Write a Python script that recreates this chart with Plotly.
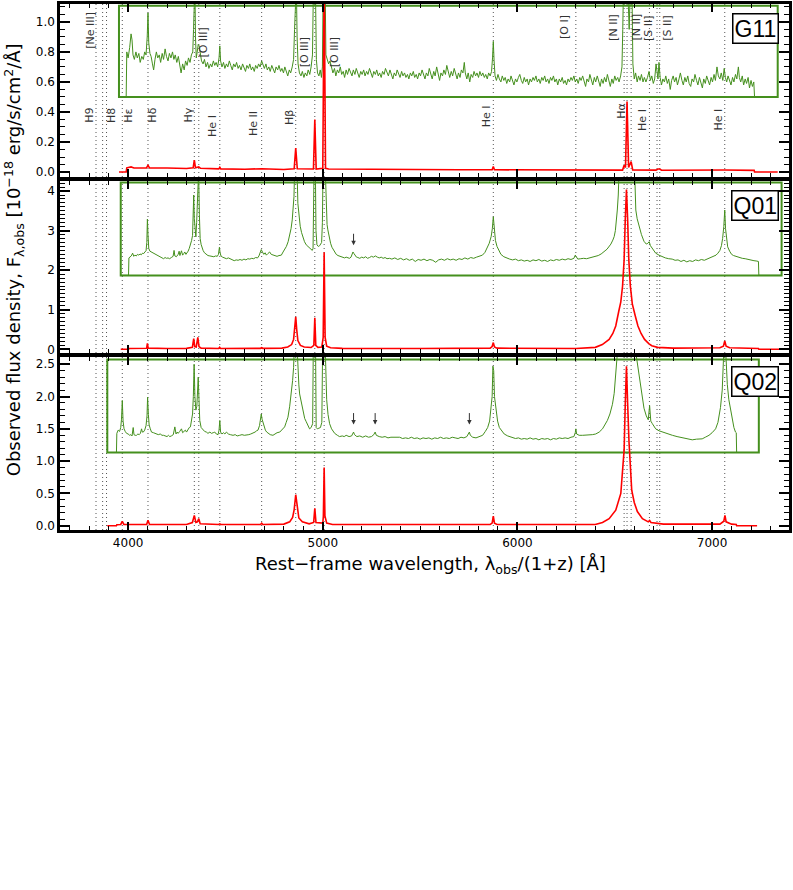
"""Espectros G11 / Q01 / Q02 com Plotly"""

import plotly.graph_objects as go
from plotly.subplots import make_subplots

GREEN = '#45901e'
RED = '#ff0000'
FONT = 'DejaVu Sans'

# comprimentos de onda das linhas marcadas (tracejado vertical)
LINE_WAVES = [3835, 3869, 3889, 3970, 4102, 4340, 4363, 4471, 4686, 4861,
              4959, 5007, 5876, 6300, 6548, 6563, 6584, 6678, 6717, 6731, 7065]

LINE_NAMES = ['[Ne III]', 'H9', 'H8', 'Hε', 'Hδ', 'Hγ', '[O III]', 'He I', 'He II',
              'Hβ', '[O III]', '[O III]', 'He I', '[O I]', '[N II]', 'Hα', '[N II]',
              'He I', '[S II]', '[S II]', 'He I']

# posição (x, y) de cada rótulo no painel de cima
LABEL_POS = [(3809, 0.947), (3801, 0.377), (3915, 0.377), (4001, 0.377), (4126, 0.38),
             (4308, 0.377), (4389, 0.861), (4433, 0.31), (4645, 0.325), (4830, 0.364),
             (4907, 0.795), (5061, 0.795), (5838, 0.371), (6245, 0.967), (6496, 0.96),
             (6534, 0.41), (6611, 0.965), (6642, 0.35), (6676, 0.96), (6773, 0.96),
             (7031, 0.35)]

# G11 - espectro ampliado (verde) e espectro observado (vermelho)
G11_ZOOM = [
    (3953, 0.50), (3990, 0.50), (3993, 0.80), (4000, 0.76), (4008, 0.83), (4015, 0.92), (4020, 0.88),
    (4025, 0.78), (4032, 0.75), (4040, 0.80), (4047, 0.76), (4055, 0.79), (4062, 0.73), (4070, 0.77),
    (4078, 0.75), (4085, 0.80), (4092, 0.78), (4098, 0.90), (4102, 1.06), (4106, 0.86), (4112, 0.79),
    (4118, 0.77), (4125, 0.72), (4131, 0.68), (4138, 0.75), (4145, 0.80), (4152, 0.76), (4160, 0.78),
    (4167, 0.73), (4175, 0.79), (4182, 0.75), (4190, 0.82), (4197, 0.77), (4205, 0.74), (4212, 0.79),
    (4220, 0.76), (4228, 0.80), (4235, 0.75), (4242, 0.78), (4250, 0.73), (4258, 0.77), (4265, 0.70),
    (4272, 0.66), (4280, 0.72), (4288, 0.68), (4295, 0.74), (4303, 0.71), (4310, 0.76), (4318, 0.73),
    (4325, 0.78), (4332, 0.80), (4336, 0.95), (4339, 1.25), (4343, 1.25), (4346, 0.90), (4350, 0.76),
    (4355, 0.80), (4360, 0.85), (4365, 0.84), (4370, 0.80), (4377, 0.74), (4385, 0.72), (4392, 0.75),
    (4400, 0.70), (4408, 0.73), (4415, 0.69), (4423, 0.72), (4430, 0.70), (4438, 0.74), (4445, 0.71),
    (4452, 0.73), (4460, 0.70), (4467, 0.76), (4471, 0.84), (4475, 0.74), (4482, 0.70), (4490, 0.73),
    (4497, 0.69), (4505, 0.72), (4512, 0.70), (4520, 0.74), (4527, 0.71), (4535, 0.68), (4542, 0.72),
    (4550, 0.70), (4557, 0.73), (4565, 0.69), (4572, 0.71), (4580, 0.68), (4588, 0.72), (4595, 0.70),
    (4603, 0.67), (4610, 0.71), (4618, 0.69), (4625, 0.72), (4633, 0.68), (4640, 0.70), (4648, 0.67),
    (4655, 0.71), (4663, 0.69), (4670, 0.72), (4678, 0.70), (4686, 0.74), (4693, 0.71), (4700, 0.69),
    (4708, 0.72), (4715, 0.68), (4723, 0.70), (4730, 0.67), (4738, 0.71), (4745, 0.69), (4753, 0.66),
    (4760, 0.70), (4768, 0.68), (4775, 0.71), (4783, 0.67), (4790, 0.69), (4798, 0.66), (4805, 0.70),
    (4813, 0.67), (4820, 0.64), (4828, 0.68), (4835, 0.66), (4843, 0.70), (4850, 0.75), (4855, 0.95),
    (4859, 1.25), (4864, 1.25), (4868, 0.90), (4873, 0.72), (4880, 0.66), (4888, 0.64), (4895, 0.67),
    (4903, 0.63), (4910, 0.66), (4918, 0.64), (4925, 0.68), (4933, 0.65), (4940, 0.70), (4947, 0.78),
    (4952, 1.25), (4962, 1.25), (4967, 0.75), (4973, 0.66), (4980, 0.64), (4987, 0.68), (4993, 0.63),
    (4998, 0.70), (5002, 1.25), (5012, 1.25), (5016, 0.78), (5022, 0.75), (5030, 0.72), (5037, 0.74),
    (5045, 0.70), (5052, 0.66), (5060, 0.69), (5067, 0.64), (5075, 0.68), (5082, 0.66), (5090, 0.70),
    (5097, 0.65), (5105, 0.67), (5112, 0.63), (5120, 0.68), (5127, 0.65), (5135, 0.69), (5142, 0.66),
    (5150, 0.64), (5157, 0.68), (5165, 0.65), (5172, 0.69), (5180, 0.66), (5187, 0.63), (5195, 0.67),
    (5202, 0.65), (5210, 0.68), (5217, 0.64), (5225, 0.67), (5232, 0.65), (5240, 0.69), (5247, 0.66),
    (5255, 0.63), (5262, 0.67), (5270, 0.65), (5277, 0.68), (5285, 0.64), (5292, 0.66), (5300, 0.63),
    (5307, 0.67), (5315, 0.65), (5322, 0.69), (5330, 0.66), (5337, 0.64), (5345, 0.68), (5352, 0.65),
    (5360, 0.62), (5367, 0.66), (5375, 0.64), (5382, 0.68), (5390, 0.65), (5397, 0.63), (5405, 0.67),
    (5412, 0.64), (5420, 0.66), (5427, 0.63), (5435, 0.65), (5442, 0.62), (5450, 0.66), (5457, 0.64),
    (5465, 0.67), (5472, 0.63), (5480, 0.65), (5487, 0.62), (5495, 0.66), (5502, 0.64), (5510, 0.68),
    (5517, 0.65), (5525, 0.62), (5532, 0.66), (5540, 0.64), (5547, 0.69), (5555, 0.65), (5562, 0.62),
    (5570, 0.67), (5577, 0.64), (5585, 0.70), (5592, 0.66), (5600, 0.61), (5607, 0.66), (5615, 0.64),
    (5622, 0.68), (5630, 0.65), (5637, 0.71), (5645, 0.66), (5652, 0.63), (5660, 0.67), (5667, 0.64),
    (5675, 0.69), (5682, 0.65), (5690, 0.62), (5697, 0.66), (5705, 0.63), (5712, 0.68), (5720, 0.66),
    (5727, 0.73), (5732, 0.66), (5740, 0.62), (5747, 0.66), (5755, 0.60), (5762, 0.65), (5770, 0.63),
    (5777, 0.67), (5785, 0.64), (5792, 0.66), (5800, 0.63), (5807, 0.67), (5815, 0.64), (5822, 0.66),
    (5830, 0.63), (5837, 0.65), (5845, 0.62), (5852, 0.66), (5860, 0.64), (5867, 0.67), (5872, 0.76),
    (5876, 0.87), (5880, 0.74), (5885, 0.64), (5892, 0.61), (5900, 0.65), (5907, 0.62), (5915, 0.60),
    (5922, 0.64), (5930, 0.61), (5937, 0.63), (5945, 0.59), (5952, 0.62), (5960, 0.60), (5967, 0.64),
    (5975, 0.61), (5982, 0.58), (5990, 0.62), (5997, 0.60), (6005, 0.63), (6012, 0.65), (6020, 0.61),
    (6027, 0.59), (6035, 0.63), (6042, 0.60), (6050, 0.62), (6057, 0.58), (6065, 0.62), (6072, 0.60),
    (6080, 0.63), (6087, 0.61), (6095, 0.64), (6102, 0.60), (6110, 0.62), (6117, 0.59), (6125, 0.63),
    (6132, 0.61), (6140, 0.64), (6147, 0.60), (6155, 0.62), (6162, 0.59), (6170, 0.63), (6177, 0.61),
    (6185, 0.64), (6192, 0.60), (6200, 0.62), (6207, 0.58), (6215, 0.62), (6222, 0.60), (6230, 0.63),
    (6237, 0.59), (6245, 0.61), (6252, 0.58), (6260, 0.62), (6267, 0.60), (6275, 0.63), (6282, 0.61),
    (6290, 0.64), (6297, 0.60), (6305, 0.62), (6312, 0.59), (6320, 0.63), (6327, 0.61), (6335, 0.64),
    (6342, 0.60), (6350, 0.57), (6357, 0.62), (6365, 0.60), (6372, 0.65), (6380, 0.61), (6387, 0.58),
    (6395, 0.63), (6402, 0.60), (6410, 0.64), (6417, 0.61), (6425, 0.57), (6432, 0.62), (6440, 0.59),
    (6447, 0.63), (6455, 0.60), (6462, 0.65), (6470, 0.61), (6477, 0.57), (6485, 0.62), (6492, 0.59),
    (6500, 0.64), (6507, 0.61), (6515, 0.63), (6522, 0.60), (6530, 0.64), (6537, 0.70), (6541, 0.95),
    (6545, 1.25), (6566, 1.25), (6574, 0.95), (6580, 1.25), (6588, 1.25), (6593, 0.72), (6600, 0.62),
    (6607, 0.66), (6615, 0.60), (6622, 0.64), (6630, 0.61), (6637, 0.65), (6645, 0.60), (6652, 0.63),
    (6660, 0.60), (6668, 0.63), (6676, 0.67), (6683, 0.61), (6690, 0.64), (6698, 0.59), (6705, 0.62),
    (6712, 0.72), (6717, 0.66), (6722, 0.62), (6727, 0.73), (6733, 0.63), (6740, 0.58), (6747, 0.62),
    (6755, 0.60), (6762, 0.64), (6770, 0.59), (6777, 0.62), (6785, 0.55), (6792, 0.61), (6800, 0.64),
    (6807, 0.60), (6815, 0.63), (6822, 0.58), (6830, 0.62), (6837, 0.66), (6845, 0.61), (6852, 0.58),
    (6860, 0.63), (6867, 0.60), (6875, 0.64), (6882, 0.59), (6890, 0.57), (6897, 0.62), (6905, 0.60),
    (6912, 0.65), (6920, 0.61), (6927, 0.58), (6935, 0.63), (6942, 0.60), (6950, 0.56), (6957, 0.62),
    (6965, 0.59), (6972, 0.64), (6980, 0.61), (6987, 0.58), (6995, 0.63), (7002, 0.60), (7010, 0.65),
    (7017, 0.61), (7025, 0.70), (7032, 0.64), (7040, 0.62), (7047, 0.66), (7055, 0.61), (7062, 0.69),
    (7068, 0.63), (7075, 0.60), (7082, 0.64), (7090, 0.61), (7097, 0.58), (7105, 0.63), (7112, 0.60),
    (7120, 0.65), (7127, 0.62), (7135, 0.70), (7140, 0.63), (7147, 0.60), (7155, 0.64), (7162, 0.58),
    (7170, 0.62), (7177, 0.59), (7185, 0.63), (7192, 0.56), (7200, 0.61), (7207, 0.57), (7214, 0.60),
    (7218, 0.50), (7337, 0.50)]

G11_FLUX = [
    (3953, 0.0), (3990, 0.0), (3993, 0.028), (4015, 0.034), (4030, 0.027), (4060, 0.027), (4094, 0.028),
    (4102, 0.045), (4110, 0.028), (4200, 0.027), (4300, 0.024), (4334, 0.028), (4340, 0.080),
    (4346, 0.028), (4356, 0.030), (4363, 0.034), (4372, 0.025), (4466, 0.021), (4471, 0.032),
    (4476, 0.021), (4600, 0.019), (4686, 0.022), (4800, 0.017), (4853, 0.022), (4861, 0.160),
    (4869, 0.022), (4952, 0.020), (4959, 0.350), (4966, 0.020), (5000, 0.025), (5007, 1.30),
    (5014, 0.025), (5030, 0.020), (5300, 0.016), (5700, 0.015), (5870, 0.015), (5876, 0.036),
    (5882, 0.015), (6300, 0.012), (6540, 0.013), (6548, 0.045), (6555, 0.030), (6563, 0.47),
    (6571, 0.030), (6584, 0.070), (6592, 0.014), (6712, 0.013), (6722, 0.020), (6731, 0.020),
    (6740, 0.012), (7065, 0.014), (7216, 0.011), (7218, 0.0), (7337, 0.0)]

# Q01
Q01_ZOOM = [
    (3962, 1.87), (4002, 1.87), (4004, 2.31), (4010, 2.33), (4016, 2.36), (4023, 2.43), (4029, 2.35),
    (4035, 2.38), (4042, 2.36), (4048, 2.40), (4055, 2.38), (4061, 2.41), (4068, 2.39), (4074, 2.43),
    (4080, 2.42), (4086, 2.46), (4092, 2.49), (4096, 2.70), (4099, 3.29), (4102, 2.90), (4106, 2.55),
    (4112, 2.48), (4120, 2.46), (4128, 2.44), (4136, 2.41), (4146, 2.38), (4155, 2.36), (4164, 2.33),
    (4173, 2.31), (4182, 2.29), (4190, 2.32), (4197, 2.30), (4205, 2.31), (4213, 2.29), (4222, 2.32),
    (4231, 2.35), (4236, 2.50), (4240, 2.36), (4248, 2.34), (4257, 2.40), (4262, 2.48), (4266, 2.37),
    (4274, 2.49), (4280, 2.38), (4286, 2.42), (4291, 2.46), (4297, 2.40), (4303, 2.44), (4308, 2.48),
    (4314, 2.55), (4320, 2.64), (4326, 2.75), (4331, 2.88), (4334, 3.20), (4337, 3.90), (4340, 3.30),
    (4344, 2.92), (4348, 2.84), (4352, 3.20), (4356, 4.50), (4362, 4.50), (4366, 3.40), (4370, 2.80),
    (4375, 2.65), (4380, 2.55), (4385, 2.50), (4392, 2.44), (4400, 2.40), (4410, 2.37), (4420, 2.36),
    (4430, 2.35), (4440, 2.34), (4450, 2.36), (4458, 2.35), (4464, 2.40), (4469, 2.58), (4472, 2.45),
    (4477, 2.36), (4485, 2.33), (4495, 2.31), (4505, 2.29), (4515, 2.31), (4525, 2.28), (4535, 2.27),
    (4545, 2.24), (4555, 2.26), (4565, 2.25), (4575, 2.27), (4585, 2.25), (4595, 2.28), (4605, 2.26),
    (4615, 2.29), (4625, 2.28), (4635, 2.30), (4645, 2.29), (4655, 2.32), (4665, 2.31), (4672, 2.36),
    (4678, 2.44), (4684, 2.52), (4690, 2.46), (4697, 2.40), (4704, 2.44), (4710, 2.38), (4718, 2.42),
    (4727, 2.46), (4735, 2.40), (4744, 2.38), (4755, 2.36), (4765, 2.35), (4775, 2.37), (4787, 2.38),
    (4796, 2.46), (4805, 2.52), (4813, 2.60), (4822, 2.72), (4830, 2.89), (4837, 3.05), (4843, 3.27),
    (4848, 3.55), (4852, 3.86), (4855, 4.50), (4868, 4.50), (4872, 3.69), (4878, 3.35), (4884, 3.11),
    (4891, 2.95), (4898, 2.81), (4906, 2.72), (4915, 2.64), (4924, 2.60), (4932, 2.56), (4940, 2.53),
    (4946, 2.50), (4950, 2.55), (4953, 3.20), (4955, 4.50), (4962, 4.50), (4965, 3.00), (4970, 2.64),
    (4977, 2.60), (4984, 2.62), (4990, 2.66), (4994, 2.70), (4998, 3.20), (5001, 4.50), (5013, 4.50),
    (5017, 3.50), (5022, 3.15), (5026, 3.02), (5033, 2.82), (5040, 2.68), (5047, 2.58), (5055, 2.50),
    (5062, 2.45), (5069, 2.40), (5078, 2.37), (5087, 2.35), (5095, 2.33), (5103, 2.32), (5112, 2.31),
    (5120, 2.33), (5128, 2.32), (5137, 2.30), (5145, 2.33), (5150, 2.38), (5155, 2.46), (5160, 2.42),
    (5166, 2.36), (5173, 2.33), (5180, 2.32), (5190, 2.30), (5200, 2.33), (5210, 2.31), (5220, 2.34),
    (5230, 2.30), (5240, 2.32), (5250, 2.35), (5260, 2.33), (5270, 2.36), (5280, 2.33), (5290, 2.31),
    (5300, 2.33), (5310, 2.30), (5320, 2.32), (5330, 2.29), (5343, 2.30), (5355, 2.28), (5370, 2.31),
    (5385, 2.27), (5400, 2.30), (5415, 2.26), (5430, 2.29), (5445, 2.25), (5460, 2.28), (5475, 2.22),
    (5490, 2.27), (5505, 2.25), (5520, 2.28), (5535, 2.24), (5550, 2.27), (5565, 2.25), (5580, 2.20),
    (5595, 2.26), (5610, 2.28), (5625, 2.25), (5640, 2.29), (5655, 2.26), (5670, 2.28), (5685, 2.25),
    (5700, 2.29), (5715, 2.27), (5730, 2.31), (5745, 2.28), (5760, 2.32), (5775, 2.30), (5790, 2.33),
    (5805, 2.36), (5820, 2.38), (5833, 2.45), (5845, 2.58), (5855, 2.68), (5865, 2.85), (5871, 3.05),
    (5876, 3.35), (5881, 3.00), (5887, 2.75), (5895, 2.60), (5905, 2.48), (5915, 2.40), (5930, 2.34),
    (5945, 2.30), (5960, 2.28), (5975, 2.26), (5990, 2.28), (6005, 2.24), (6020, 2.26), (6035, 2.23),
    (6050, 2.25), (6065, 2.22), (6080, 2.26), (6095, 2.24), (6110, 2.27), (6125, 2.23), (6140, 2.25),
    (6155, 2.22), (6170, 2.26), (6185, 2.24), (6200, 2.27), (6215, 2.25), (6230, 2.28), (6245, 2.26),
    (6260, 2.29), (6275, 2.27), (6290, 2.30), (6297, 2.38), (6303, 2.34), (6310, 2.28), (6325, 2.29),
    (6340, 2.30), (6355, 2.29), (6370, 2.31), (6385, 2.32), (6400, 2.34), (6415, 2.37), (6430, 2.41),
    (6440, 2.44), (6450, 2.49), (6460, 2.53), (6471, 2.59), (6480, 2.66), (6490, 2.76), (6497, 2.85),
    (6503, 3.00), (6508, 3.20), (6513, 3.52), (6518, 3.90), (6522, 4.50), (6602, 4.50), (6605, 3.90),
    (6608, 3.52), (6615, 3.30), (6625, 3.10), (6637, 2.90), (6650, 2.73), (6662, 2.66), (6670, 2.68),
    (6677, 2.72), (6683, 2.62), (6693, 2.55), (6710, 2.43), (6727, 2.38), (6744, 2.34), (6760, 2.31),
    (6777, 2.29), (6795, 2.28), (6810, 2.25), (6825, 2.26), (6840, 2.22), (6855, 2.25), (6870, 2.21),
    (6885, 2.24), (6900, 2.22), (6915, 2.26), (6930, 2.24), (6945, 2.27), (6960, 2.25), (6975, 2.28),
    (6990, 2.31), (7000, 2.33), (7010, 2.35), (7020, 2.38), (7030, 2.43), (7040, 2.50), (7048, 2.62),
    (7054, 2.80), (7060, 3.10), (7065, 3.52), (7069, 3.05), (7074, 2.75), (7080, 2.59), (7090, 2.48),
    (7100, 2.40), (7110, 2.37), (7125, 2.34), (7140, 2.32), (7155, 2.30), (7170, 2.29), (7185, 2.27),
    (7200, 2.26), (7215, 2.24), (7230, 2.23), (7238, 2.22), (7240, 1.87), (7357, 1.87)]

Q01_FLUX = [
    (3962, 0.0), (4002, 0.0), (4004, 0.02), (4050, 0.02), (4095, 0.025), (4099, 0.15), (4103, 0.03),
    (4200, 0.02), (4300, 0.025), (4330, 0.05), (4337, 0.27), (4342, 0.07), (4350, 0.06), (4358, 0.30),
    (4364, 0.07), (4375, 0.03), (4465, 0.02), (4470, 0.05), (4475, 0.02), (4680, 0.025), (4686, 0.04),
    (4692, 0.025), (4790, 0.03), (4820, 0.06), (4840, 0.12), (4850, 0.25), (4856, 0.50), (4861, 0.82),
    (4866, 0.50), (4872, 0.22), (4885, 0.10), (4905, 0.06), (4940, 0.045), (4954, 0.10), (4959, 0.80),
    (4964, 0.10), (4975, 0.05), (4995, 0.06), (5002, 0.30), (5007, 2.45), (5012, 0.30), (5020, 0.08),
    (5040, 0.04), (5100, 0.025), (5500, 0.02), (5860, 0.03), (5870, 0.07), (5876, 0.17), (5882, 0.06),
    (5895, 0.03), (6300, 0.02), (6400, 0.05), (6436, 0.12), (6471, 0.25), (6490, 0.40), (6505, 0.59),
    (6520, 0.95), (6531, 1.20), (6540, 1.60), (6548, 2.26), (6554, 3.30), (6560, 4.04), (6566, 3.30),
    (6572, 2.26), (6580, 1.60), (6590, 1.15), (6605, 0.85), (6619, 0.59), (6635, 0.40), (6653, 0.25),
    (6676, 0.14), (6690, 0.09), (6720, 0.05), (6800, 0.03), (7040, 0.04), (7058, 0.08), (7065, 0.21),
    (7072, 0.08), (7090, 0.04), (7150, 0.025), (7238, 0.02), (7240, 0.0), (7357, 0.0)]

# Q02
Q02_ZOOM = [
    (3893, 1.134), (3940, 1.134), (3942, 1.43), (3949, 1.48), (3956, 1.46), (3962, 1.52), (3966, 1.65),
    (3970, 1.94), (3974, 1.62), (3979, 1.50), (3985, 1.46), (3992, 1.43), (4000, 1.42), (4008, 1.40),
    (4014, 1.41), (4020, 1.39), (4026, 1.52), (4030, 1.41), (4036, 1.40), (4043, 1.40), (4050, 1.42),
    (4057, 1.41), (4063, 1.43), (4069, 1.50), (4073, 1.45), (4078, 1.45), (4085, 1.48), (4092, 1.55),
    (4097, 1.70), (4100, 1.99), (4104, 1.72), (4108, 1.56), (4114, 1.50), (4120, 1.45), (4130, 1.44),
    (4140, 1.43), (4146, 1.43), (4155, 1.41), (4165, 1.42), (4174, 1.40), (4182, 1.40), (4190, 1.39),
    (4200, 1.38), (4207, 1.40), (4214, 1.38), (4222, 1.39), (4232, 1.41), (4240, 1.53), (4246, 1.42),
    (4252, 1.45), (4257, 1.43), (4265, 1.46), (4274, 1.50), (4280, 1.44), (4288, 1.46), (4294, 1.48),
    (4300, 1.45), (4308, 1.50), (4314, 1.52), (4320, 1.53), (4326, 1.62), (4331, 1.73), (4335, 2.00),
    (4339, 2.50), (4343, 2.00), (4348, 1.79), (4353, 1.85), (4357, 2.10), (4360, 2.30), (4364, 1.95),
    (4368, 1.63), (4375, 1.52), (4385, 1.48), (4393, 1.46), (4402, 1.45), (4410, 1.43), (4420, 1.45),
    (4428, 1.43), (4437, 1.44), (4445, 1.45), (4453, 1.42), (4462, 1.41), (4467, 1.48), (4471, 1.63),
    (4475, 1.45), (4482, 1.42), (4490, 1.44), (4497, 1.42), (4505, 1.45), (4515, 1.42), (4525, 1.41),
    (4539, 1.40), (4550, 1.41), (4560, 1.39), (4573, 1.40), (4585, 1.41), (4597, 1.40), (4608, 1.40),
    (4620, 1.41), (4630, 1.42), (4642, 1.43), (4652, 1.45), (4660, 1.47), (4667, 1.48), (4675, 1.55),
    (4680, 1.62), (4684, 1.73), (4688, 1.65), (4696, 1.56), (4705, 1.48), (4712, 1.45), (4719, 1.43),
    (4730, 1.41), (4744, 1.40), (4755, 1.42), (4765, 1.44), (4779, 1.45), (4790, 1.49), (4804, 1.53),
    (4812, 1.60), (4821, 1.68), (4830, 1.85), (4838, 2.04), (4845, 2.25), (4850, 2.45), (4853, 2.70),
    (4869, 2.70), (4872, 2.35), (4877, 2.18), (4881, 2.04), (4888, 1.92), (4895, 1.81), (4901, 1.73),
    (4907, 1.66), (4915, 1.61), (4924, 1.56), (4932, 1.50), (4940, 1.52), (4948, 1.58), (4951, 2.70),
    (4963, 2.70), (4966, 1.52), (4972, 1.50), (4980, 1.51), (4988, 1.52), (4995, 1.60), (4999, 2.70),
    (5013, 2.70), (5016, 2.20), (5020, 1.95), (5027, 1.72), (5035, 1.58), (5045, 1.50), (5055, 1.45),
    (5061, 1.43), (5075, 1.40), (5086, 1.38), (5100, 1.39), (5110, 1.38), (5120, 1.40), (5135, 1.38),
    (5148, 1.39), (5153, 1.42), (5158, 1.45), (5163, 1.41), (5175, 1.38), (5190, 1.39), (5205, 1.37),
    (5220, 1.39), (5235, 1.37), (5250, 1.38), (5262, 1.41), (5269, 1.45), (5275, 1.40), (5290, 1.38),
    (5305, 1.37), (5320, 1.38), (5335, 1.36), (5350, 1.37), (5365, 1.37), (5380, 1.36), (5395, 1.37),
    (5410, 1.35), (5425, 1.36), (5440, 1.35), (5455, 1.37), (5470, 1.35), (5485, 1.36), (5500, 1.34),
    (5515, 1.36), (5530, 1.35), (5545, 1.36), (5560, 1.34), (5575, 1.36), (5590, 1.35), (5605, 1.37),
    (5620, 1.35), (5635, 1.36), (5650, 1.35), (5665, 1.37), (5680, 1.36), (5695, 1.35), (5710, 1.37),
    (5725, 1.36), (5740, 1.38), (5748, 1.42), (5753, 1.45), (5758, 1.40), (5770, 1.37), (5787, 1.36),
    (5800, 1.38), (5810, 1.39), (5821, 1.40), (5835, 1.46), (5847, 1.52), (5857, 1.62), (5864, 1.78),
    (5870, 2.00), (5874, 2.47), (5878, 2.40), (5882, 2.00), (5890, 1.78), (5898, 1.62), (5907, 1.52),
    (5920, 1.46), (5932, 1.42), (5950, 1.39), (5975, 1.36), (5990, 1.35), (6005, 1.36), (6020, 1.34),
    (6035, 1.35), (6050, 1.34), (6065, 1.36), (6080, 1.34), (6095, 1.35), (6110, 1.33), (6125, 1.35),
    (6140, 1.34), (6155, 1.35), (6170, 1.33), (6185, 1.35), (6200, 1.34), (6215, 1.36), (6230, 1.35),
    (6245, 1.36), (6260, 1.35), (6275, 1.37), (6290, 1.38), (6297, 1.44), (6300, 1.50), (6304, 1.42),
    (6317, 1.40), (6335, 1.40), (6350, 1.40), (6368, 1.40), (6385, 1.41), (6402, 1.42), (6420, 1.45),
    (6437, 1.50), (6450, 1.56), (6462, 1.63), (6475, 1.73), (6488, 1.88), (6497, 2.05), (6505, 2.29),
    (6510, 2.50), (6514, 2.70), (6607, 2.70), (6612, 2.60), (6616, 2.50), (6625, 2.33), (6633, 2.19),
    (6642, 2.00), (6650, 1.82), (6662, 1.70), (6672, 1.64), (6679, 1.86), (6685, 1.62), (6693, 1.58),
    (6710, 1.50), (6727, 1.47), (6744, 1.45), (6770, 1.42), (6796, 1.40), (6820, 1.38), (6847, 1.36),
    (6870, 1.35), (6898, 1.33), (6920, 1.34), (6949, 1.345), (6965, 1.37), (6984, 1.40), (7000, 1.44),
    (7018, 1.50), (7030, 1.60), (7043, 1.83), (7052, 2.10), (7057, 2.40), (7060, 2.70), (7070, 2.70),
    (7074, 2.40), (7078, 2.19), (7086, 1.95), (7095, 1.78), (7104, 1.63), (7112, 1.52), (7120, 1.45),
    (7124, 1.44), (7126, 1.134), (7240, 1.134)]

Q02_FLUX = [
    (3893, 0.0), (3940, 0.0), (3942, 0.015), (3962, 0.02), (3970, 0.068), (3978, 0.02), (4095, 0.02),
    (4102, 0.083), (4110, 0.02), (4300, 0.02), (4330, 0.05), (4340, 0.16), (4348, 0.05), (4356, 0.06),
    (4363, 0.11), (4370, 0.03), (4465, 0.02), (4471, 0.03), (4477, 0.02), (4680, 0.02), (4686, 0.04),
    (4692, 0.02), (4800, 0.025), (4830, 0.06), (4845, 0.13), (4853, 0.25), (4861, 0.48), (4869, 0.25),
    (4877, 0.12), (4895, 0.06), (4930, 0.03), (4953, 0.05), (4959, 0.27), (4965, 0.05), (5000, 0.04),
    (5003, 0.15), (5007, 0.90), (5011, 0.15), (5020, 0.04), (5050, 0.02), (5860, 0.02), (5870, 0.04),
    (5876, 0.15), (5882, 0.04), (5895, 0.02), (6400, 0.02), (6437, 0.05), (6471, 0.11), (6505, 0.24),
    (6531, 0.50), (6548, 1.17), (6554, 1.90), (6560, 2.47), (6566, 1.90), (6573, 1.30), (6587, 0.55),
    (6600, 0.36), (6616, 0.22), (6642, 0.11), (6672, 0.06), (6679, 0.08), (6686, 0.05), (6750, 0.025),
    (7040, 0.025), (7060, 0.07), (7066, 0.16), (7072, 0.06), (7100, 0.025), (7124, 0.02), (7126, 0.0),
    (7231, 0.0)]

PANELS = [
    dict(name='G11', zoom=G11_ZOOM, flux=G11_FLUX, box=(3953, 7337, 0.5, 1.108),
         yrange=[-0.033, 1.119], dtick=0.2, minor=0.05, fmt='.1f', arrows=[]),
    dict(name='Q01', zoom=Q01_ZOOM, flux=Q01_FLUX, box=(3962, 7357, 1.867, 4.216),
         yrange=[-0.093, 4.254], dtick=1, minor=0.1, fmt='d', arrows=[(5158, 2.63)]),
    dict(name='Q02', zoom=Q02_ZOOM, flux=Q02_FLUX, box=(3893, 7240, 1.134, 2.575),
         yrange=[-0.066, 2.612], dtick=0.5, minor=0.1, fmt='.1f',
         arrows=[(5158, 1.566), (5269, 1.566), (5753, 1.566)]),
]

DOMAINS = [[0.6711, 1.0], [0.3365, 0.6635], [0.0, 0.3289]]

fig = make_subplots(rows=3, cols=1, shared_xaxes=True, vertical_spacing=0.01)

shapes = []
annotations = []

for i, p in enumerate(PANELS):
    row = i + 1
    xr = 'x' if row == 1 else f'x{row}'
    yr = 'y' if row == 1 else f'y{row}'

    for w in LINE_WAVES:
        shapes.append(dict(type='line', xref=xr, yref=f'{yr} domain', x0=w, x1=w, y0=0, y1=1,
                           line=dict(color='#555555', width=1, dash='1px,3px'), layer='below'))

    x0, x1, y0, y1 = p['box']
    shapes.append(dict(type='rect', xref=xr, yref=yr, x0=x0, x1=x1, y0=y0, y1=y1,
                       line=dict(color=GREEN, width=2), layer='below'))

    fig.add_trace(go.Scatter(
        x=[a for a, _ in p['zoom']], y=[b for _, b in p['zoom']],
        mode='lines', line=dict(color=GREEN, width=1), showlegend=False
    ), row=row, col=1)

    fig.add_trace(go.Scatter(
        x=[a for a, _ in p['flux']], y=[b for _, b in p['flux']],
        mode='lines', line=dict(color=RED, width=1.6), showlegend=False
    ), row=row, col=1)

    annotations.append(dict(
        text=p['name'], xref=f'{xr} domain', yref=f'{yr} domain', x=0.986, y=0.948,
        xanchor='right', yanchor='top', showarrow=False, bgcolor='white',
        bordercolor='black', borderwidth=1.5, borderpad=1,
        font=dict(family='Liberation Sans', size=23, color='black')))

    for ax_, ay_ in p['arrows']:
        annotations.append(dict(
            x=ax_, y=ay_, xref=xr, yref=yr, text='', showarrow=True, ax=0, ay=-13,
            arrowhead=2, arrowsize=0.9, arrowwidth=1, arrowcolor='#333333'))

    fig.update_yaxes(
        domain=DOMAINS[i], range=p['yrange'], dtick=p['dtick'], tick0=0, tickformat=p['fmt'],
        ticks='inside', ticklen=10, tickwidth=2, tickcolor='black',
        minor=dict(dtick=p['minor'], ticks='inside', ticklen=5, tickwidth=1, tickcolor='black'),
        showline=True, linewidth=2.5, linecolor='black', mirror='ticks',
        showgrid=False, zeroline=False,
        tickfont=dict(family=FONT, size=12, color='black'),
        row=row, col=1)

    fig.update_xaxes(
        range=[3650, 7395], dtick=1000, tick0=0,
        ticks='inside', ticklen=8, tickwidth=2, tickcolor='black',
        minor=dict(dtick=100, ticks='inside', ticklen=4, tickwidth=1, tickcolor='black'),
        showline=True, linewidth=2.5, linecolor='black', mirror='ticks',
        showgrid=False, zeroline=False,
        tickfont=dict(family=FONT, size=12, color='black'),
        row=row, col=1)

# rótulos das linhas no painel superior
for name, (lx, ly) in zip(LINE_NAMES, LABEL_POS):
    annotations.append(dict(
        text=name, x=lx, y=ly, xref='x', yref='y', showarrow=False, textangle=-90,
        xanchor='center', yanchor='middle',
        font=dict(family=FONT, size=11, color='#333333')))

annotations.append(dict(
    text='Rest−frame wavelength, λ<sub>obs</sub>/(1+z) [Å]', xref='paper', yref='paper',
    x=0.508, y=-0.066, xanchor='center', yanchor='middle', showarrow=False,
    font=dict(family=FONT, size=18, color='black')))

annotations.append(dict(
    text='Observed flux density, F<sub>λ,obs</sub> [10<sup>−18</sup> erg/s/cm<sup>2</sup>/Å]',
    xref='paper', yref='paper', x=-0.063, y=0.513, xanchor='center', yanchor='middle',
    textangle=-90, showarrow=False, font=dict(family=FONT, size=18, color='black')))

fig.update_layout(
    width=793, height=890,
    margin=dict(l=60, r=3, t=1, b=360),
    plot_bgcolor='white', paper_bgcolor='white',
    shapes=shapes, annotations=annotations,
    showlegend=False
)

# sem margem do <body>, para o gráfico ocupar a janela exatamente
fig.write_html("out.html", config={'displayModeBar': False},
               post_script="document.body.style.margin='0px';")
